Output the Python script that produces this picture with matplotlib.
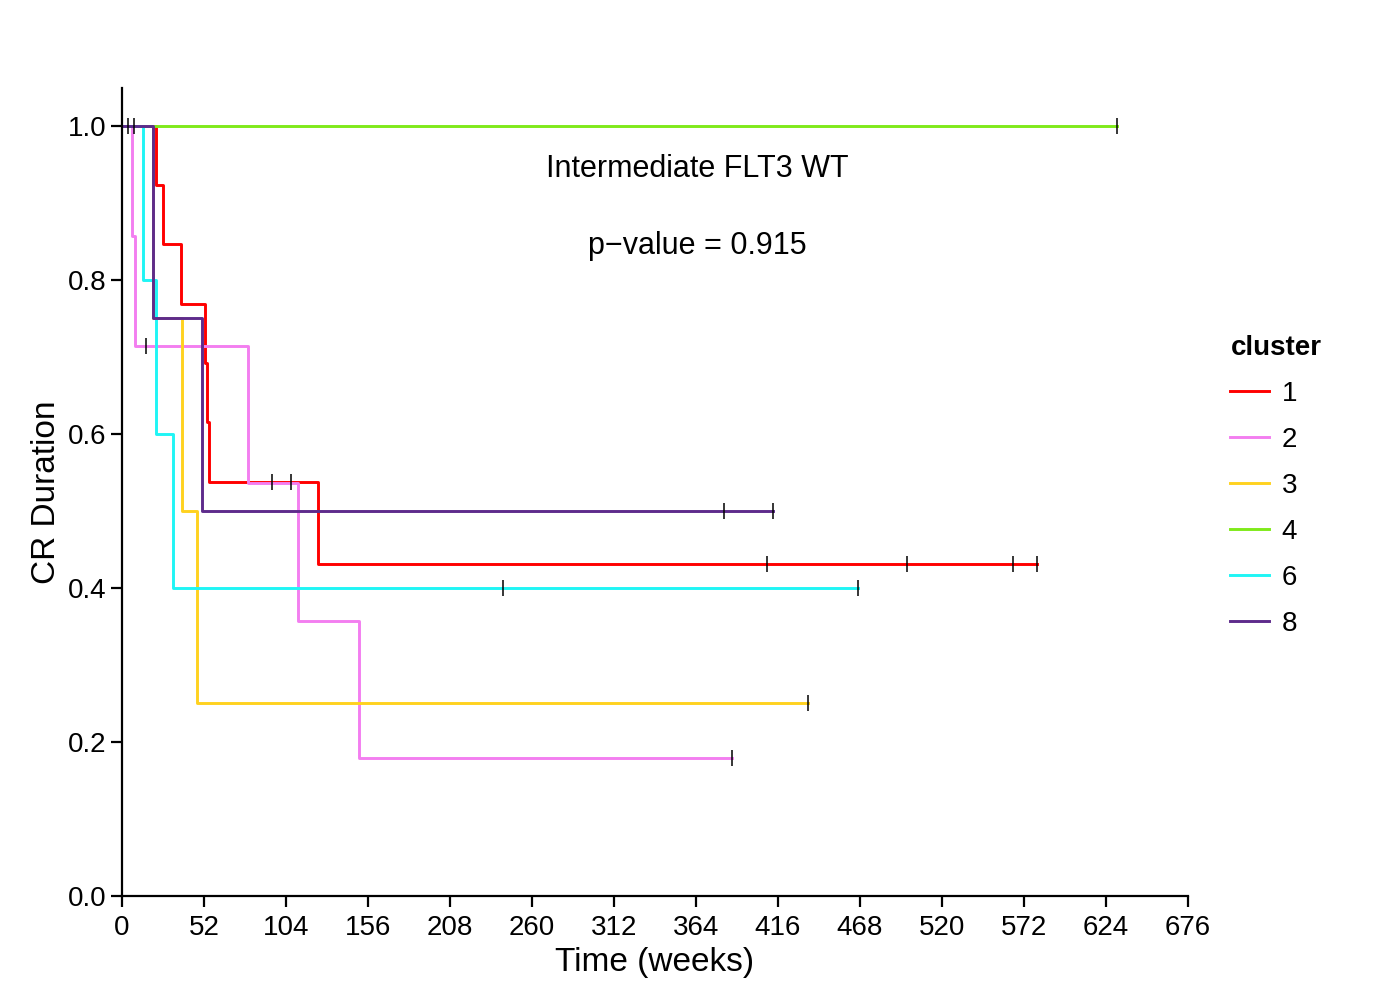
import numpy as np
import matplotlib.pyplot as plt
from matplotlib.lines import Line2D

plt.rcParams['font.family'] = ['Liberation Sans', 'DejaVu Sans']

# Kaplan-Meier steps (time in weeks, survival)
clusters = ['1', '2', '3', '4', '6', '8']
colors = ['#FF0000', '#F37EF0', '#FFD21F', '#7FEA1A', '#1FF5F5', '#5E2B8C']

times_1 = [0, 21.4, 25.8, 37.3, 52.6, 53.7, 55.2, 124.3, 580]
surv_1 = [1.0, 0.923, 0.846, 0.769, 0.692, 0.615, 0.538, 0.431, 0.431]
cens_1 = [95, 107, 409, 498, 565, 580]

times_2 = [0, 6.1, 8.2, 80, 111.6, 150, 387]
surv_2 = [1.0, 0.857, 0.714, 0.536, 0.357, 0.179, 0.179]
cens_2 = [15.2, 387]

times_3 = [0, 20, 37.8, 47.7, 435]
surv_3 = [1.0, 0.75, 0.5, 0.25, 0.25]
cens_3 = [435]

times_4 = [0, 631]
surv_4 = [1.0, 1.0]
cens_4 = [4, 7.5, 631]

times_6 = [0, 13.5, 21.4, 32.5, 466.7]
surv_6 = [1.0, 0.8, 0.6, 0.4, 0.4]
cens_6 = [241.6, 466.7]

times_8 = [0, 19.9, 50.5, 413]
surv_8 = [1.0, 0.75, 0.5, 0.5]
cens_8 = [382, 413]

all_times = [times_1, times_2, times_3, times_4, times_6, times_8]
all_surv = [surv_1, surv_2, surv_3, surv_4, surv_6, surv_8]
all_cens = [cens_1, cens_2, cens_3, cens_4, cens_6, cens_8]

fig = plt.figure(figsize=(14, 10), dpi=100)
ax = fig.add_axes([0.0871, 0.104, 0.7615, 0.808])

for t, s, c, col in zip(all_times, all_surv, all_cens, colors):
    ax.step(t, s, where='post', color=col, lw=2.1)

# censor marks in black
for t, s, c in zip(all_times, all_surv, all_cens):
    cy = [s[np.searchsorted(t, ci, side='right') - 1] for ci in c]
    ax.plot(c, cy, linestyle='none', marker='|', color='black', ms=11, mew=1.1, zorder=5)

ax.set_xlim(0, 676)
ax.set_ylim(0, 1.049)
ax.set_xticks(np.arange(0, 677, 52))
ax.set_yticks([0.0, 0.2, 0.4, 0.6, 0.8, 1.0])
ax.set_yticklabels(['0.0', '0.2', '0.4', '0.6', '0.8', '1.0'])
ax.spines['top'].set_visible(False)
ax.spines['right'].set_visible(False)
for sp in ['left', 'bottom']:
    ax.spines[sp].set_linewidth(1.6)
ax.tick_params(axis='both', direction='out', length=8, width=1.6, labelsize=20)
ax.tick_params(axis='x', pad=6)
ax.tick_params(axis='y', pad=3)
ax.set_xlabel('Time (weeks)', fontsize=24, labelpad=4)
ax.set_ylabel('CR Duration', fontsize=24, labelpad=4)

ax.text(365, 0.944, 'Intermediate FLT3 WT', fontsize=22, ha='center', va='center')
ax.text(365, 0.844, 'p\u2212value = 0.915', fontsize=22, ha='center', va='center')

handles = [Line2D([0], [0], color=col, lw=2.1) for col in colors]
leg = fig.legend(handles, clusters, title='cluster', loc='center left',
                 bbox_to_anchor=(0.861, 0.514), frameon=False, fontsize=20,
                 title_fontsize=20, handlelength=1.4, labelspacing=0.72,
                 handletextpad=0.45)
leg.get_title().set_fontweight('bold')
leg._legend_box.align = 'left'

fig.savefig('out.png', dpi=100)
